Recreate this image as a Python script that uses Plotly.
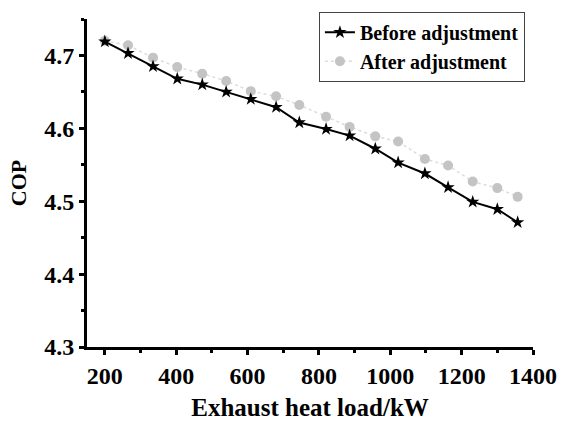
import plotly.graph_objects as go

load_kw = [200, 265, 335, 403, 473, 540, 609, 680, 745, 820, 886, 958, 1022, 1097, 1162, 1231, 1300, 1357]
cop_before = [4.719, 4.703, 4.685, 4.668, 4.660, 4.650, 4.640, 4.629, 4.608, 4.599, 4.590, 4.572,
              4.553, 4.538, 4.519, 4.499, 4.489, 4.471]
cop_after = [4.720, 4.714, 4.697, 4.684, 4.675, 4.665, 4.651, 4.644, 4.632, 4.616, 4.602, 4.589,
             4.582, 4.558, 4.549, 4.527, 4.518, 4.506]
x_ticks = [200, 400, 600, 800, 1000, 1200, 1400]
y_ticks = [4.3, 4.4, 4.5, 4.6, 4.7]

FONT = "Liberation Serif"

fig = go.Figure()
fig.add_trace(go.Scatter(
    x=load_kw, y=cop_after, mode="lines+markers", name="<b>After adjustment</b>",
    line=dict(color="#dcdcdc", width=1.5, dash="dot"),
    marker=dict(symbol="circle", size=10, color="#c4c4c4"),
))
fig.add_trace(go.Scatter(
    x=load_kw, y=cop_before, mode="lines+markers", name="<b>Before adjustment</b>",
    line=dict(color="black", width=2),
    marker=dict(symbol="star", size=10, color="black"),
))

axis_common = dict(
    showline=True, linecolor="black", linewidth=3, mirror=False,
    ticks="outside", tickcolor="black", tickwidth=2.5, ticklen=5,
    showgrid=False, zeroline=False, automargin=False,
    tickfont=dict(family=FONT, size=24, color="black"),
)

fig.update_layout(
    width=561, height=421,
    margin=dict(l=87, r=28, t=15, b=74),
    paper_bgcolor="white", plot_bgcolor="white",
    font=dict(family=FONT, color="black"),
    showlegend=True,
    legend=dict(
        x=0.52, y=1.022, xanchor="left", yanchor="top",
        bordercolor="#444444", borderwidth=1, bgcolor="white",
        font=dict(family=FONT, size=20, color="black"),
        traceorder="reversed", tracegroupgap=0, itemwidth=30,
    ),
    xaxis=dict(
        range=[150, 1400], tickvals=x_ticks, ticktext=["<b>%d</b>" % v for v in x_ticks],
        minor=dict(dtick=100, tick0=0, ticks="outside", ticklen=3, tickwidth=2.5, tickcolor="black"),
        title=dict(text="<b>Exhaust heat load/kW</b>", standoff=16,
                   font=dict(family=FONT, size=25, color="black")),
        **axis_common,
    ),
    yaxis=dict(
        range=[4.3, 4.75], tickvals=y_ticks, ticktext=["<b>%.1f</b>" % v for v in y_ticks],
        minor=dict(dtick=0.05, tick0=4.3, ticks="outside", ticklen=3, tickwidth=2.5, tickcolor="black"),
        title=dict(text="<b>COP</b>", standoff=12,
                   font=dict(family=FONT, size=22, color="black")),
        **axis_common,
    ),
)

fig.write_html("out.html", config={"displayModeBar": False},
               post_script="document.body.style.margin='0';document.body.style.padding='0';")
